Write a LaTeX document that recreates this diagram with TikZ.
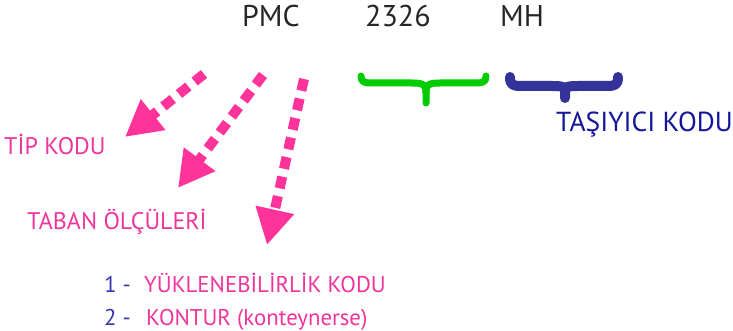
\documentclass[tikz,border=0pt]{standalone}
\usepackage{fontspec}
\setmainfont{PT Sans}
\usetikzlibrary{arrows.meta}
\definecolor{pinkc}{HTML}{FF3399}
\definecolor{pinktxt}{HTML}{F0359A}
\definecolor{greenc}{HTML}{00CC00}
\definecolor{bluec}{HTML}{333399}
\definecolor{navytxt}{HTML}{15159A}
\definecolor{numblue}{HTML}{3535B0}
\tikzset{
  codetxt/.style={anchor=base west, inner sep=0pt, font=\fontsize{30}{33}\selectfont, text=black!85},
  pinklabel/.style={anchor=base west, inner sep=0pt, font=\fontsize{24}{27}\selectfont, text=pinktxt},
  listlabel/.style={anchor=base west, inner sep=0pt, font=\fontsize{22.8}{25}\selectfont, text=pinktxt},
  numlabel/.style={anchor=base west, inner sep=0pt, font=\fontsize{22.8}{25}\selectfont, text=numblue},
  navylabel/.style={anchor=base west, inner sep=0pt, font=\fontsize{27.5}{30}\selectfont, text=navytxt},
  dasharrow/.style={pinkc, line width=10pt, dash pattern=on 12pt off 8pt,
    -{Triangle[length=36pt,width=37pt]}},
  bracegreen/.style={greenc, line width=7pt, line cap=round, line join=round},
  braceblue/.style={bluec, line width=10pt, line cap=round, line join=round}
}
\begin{document}
\begin{tikzpicture}[x=1pt,y=-1pt]
\useasboundingbox (0,0) rectangle (733,331);
% codes
\node[codetxt] (pmc) at (242,27) {PMC};
\node[codetxt] (num) at (365,27) {2326};
\node[codetxt] (mh) at (500,27) {MH};
% labels
\node[pinklabel] (tip) at (4,155) {TİP KODU};
\node[pinklabel] (taban) at (27,229) {TABAN ÖLÇÜLERİ};
\node[numlabel] (n1) at (104,292) {1 -};
\node[listlabel] (yuk) at (144,292) {YÜKLENEBİLİRLİK KODU};
\node[numlabel] (n2) at (104,325) {2 -};
\node[listlabel] (kont) at (146,325) {KONTUR (konteynerse)};
\node[navylabel] (tasiyici) at (556,132) {TAŞIYICI KODU};
% arrow coordinates
\coordinate (a1s) at (204,74);
\coordinate (a1e) at (125,137);
\coordinate (a2s) at (263,75);
\coordinate (a2e) at (178,188);
\coordinate (a3s) at (304,79);
\coordinate (a3e) at (267,245);
\draw[dasharrow] (a1s) -- (a1e);
\draw[dasharrow] (a2s) -- (a2e);
\draw[dasharrow] (a3s) -- (a3e);
% green brace
\coordinate (g1) at (361,76);
\coordinate (g2) at (486,76);
\coordinate (gt) at (426,103);
\draw[bracegreen] (g1) .. controls (361,82) and (364,83) .. (372,83) -- (412,83)
  .. controls (424,83) and (426,85) .. (426,93) -- (gt);
\draw[bracegreen] (g2) .. controls (486,82) and (483,83) .. (475,83) -- (440,83)
  .. controls (428,83) and (426,85) .. (426,93);
% blue brace
\coordinate (b1) at (510,77);
\coordinate (b2) at (618,77);
\coordinate (bt) at (565,98);
\draw[braceblue] (b1) .. controls (510,85) and (513,86) .. (521,86) -- (552,86)
  .. controls (563,86) and (565,87) .. (565,91) -- (bt);
\draw[braceblue] (b2) .. controls (618,85) and (615,86) .. (607,86) -- (578,86)
  .. controls (567,86) and (565,87) .. (565,91);
\end{tikzpicture}
\end{document}
